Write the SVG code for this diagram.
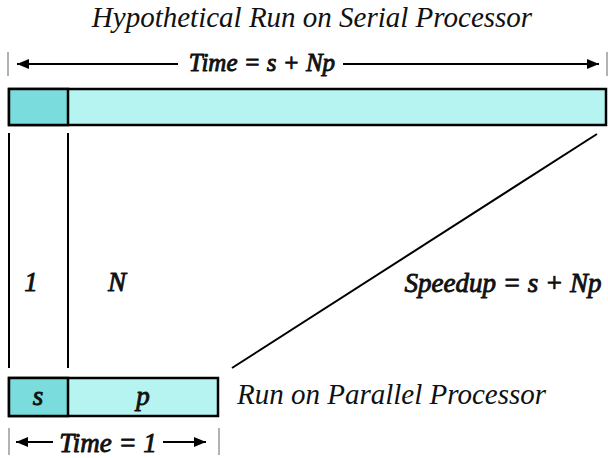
<svg xmlns="http://www.w3.org/2000/svg" width="608" height="458" viewBox="0 0 608 458">
  <style>
    .box { stroke: #000; stroke-width: 2.5; }
    .dark { fill: #7adcdc; }
    .light { fill: #b6f4f2; }
    .ln { stroke: #000; stroke-width: 2; fill: none; }
    .tick { stroke: #999; stroke-width: 1.5; }
    .heavy { stroke: #111; stroke-width: 0.9; stroke-linejoin: round; }
  </style>
  <defs>
    <marker id="ah" viewBox="0 0 12 10" refX="12" refY="5" markerWidth="12" markerHeight="10" markerUnits="userSpaceOnUse" orient="auto">
      <path d="M0,0 L12,5 L0,10 z" fill="#000"/>
    </marker>
  </defs>

  <text x="312" y="27" font-family="Liberation Serif" font-style="italic" font-size="29" fill="#111" text-anchor="middle">Hypothetical Run on Serial Processor</text>

  <g id="connectors">
    <!-- serial time span -->
    <line class="tick" x1="8" y1="52" x2="8" y2="76"/>
    <line class="tick" x1="607" y1="52" x2="607" y2="76"/>
    <line class="ln" x1="178" y1="64" x2="17" y2="64" marker-end="url(#ah)"/>
    <line class="ln" x1="343" y1="64" x2="599" y2="64" marker-end="url(#ah)"/>
    <!-- projection lines -->
    <line class="ln" x1="9" y1="133" x2="9" y2="368"/>
    <line class="ln" x1="68" y1="133" x2="68" y2="368"/>
    <line class="ln" x1="232" y1="368" x2="597" y2="134"/>
    <!-- parallel time span -->
    <line class="tick" x1="9" y1="428" x2="9" y2="455"/>
    <line class="tick" x1="219" y1="428" x2="219" y2="455"/>
    <line class="ln" x1="53" y1="442" x2="16" y2="442" marker-end="url(#ah)"/>
    <line class="ln" x1="163" y1="442" x2="206" y2="442" marker-end="url(#ah)"/>
  </g>

  <g id="serial-run">
    <rect class="box light" x="9" y="89" width="597" height="36"/>
    <rect class="box dark" x="9" y="89" width="59" height="36"/>
    <text class="heavy" x="262" y="71" font-family="Liberation Serif" font-style="italic" font-size="25" fill="#111" text-anchor="middle">Time = s + Np</text>
  </g>

  <g id="parallel-run">
    <rect class="box light" x="9" y="378" width="209" height="38"/>
    <rect class="box dark" x="9" y="378" width="59" height="38"/>
    <text class="heavy" x="38" y="405" font-family="Liberation Serif" font-style="italic" font-size="27" fill="#111" text-anchor="middle">s</text>
    <text class="heavy" x="143" y="405" font-family="Liberation Serif" font-style="italic" font-size="27" fill="#111" text-anchor="middle">p</text>
    <text x="237" y="404" font-family="Liberation Serif" font-style="italic" font-size="29" fill="#111">Run on Parallel Processor</text>
    <text class="heavy" x="108" y="452" font-family="Liberation Serif" font-style="italic" font-size="27" fill="#111" text-anchor="middle">Time = 1</text>
  </g>

  <g id="labels">
    <text class="heavy" x="31" y="291" font-family="Liberation Serif" font-style="italic" font-size="27" fill="#111" text-anchor="middle">1</text>
    <text class="heavy" x="117" y="291" font-family="Liberation Serif" font-style="italic" font-size="27" fill="#111" text-anchor="middle">N</text>
    <text class="heavy" x="503" y="292" font-family="Liberation Serif" font-style="italic" font-size="27" fill="#111" text-anchor="middle">Speedup = s + Np</text>
  </g>
</svg>
